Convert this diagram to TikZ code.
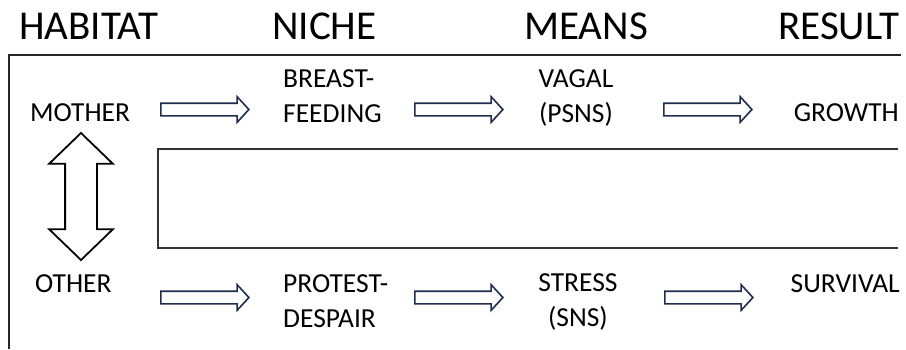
\documentclass[tikz,border=0pt]{standalone}
\usepackage{fontspec}
\setmainfont{Carlito}
\usetikzlibrary{shapes.arrows}
\definecolor{navy}{HTML}{1F2E4E}
\tikzset{
  heading/.style={font=\fontsize{41}{41}\selectfont, inner sep=0pt},
  label/.style={font=\fontsize{27.5}{35}\selectfont, inner sep=0pt},
  fatarrow/.style={draw=navy, line width=1.6pt, fill=white, single arrow,
    minimum height=88pt, inner xsep=0pt, inner ysep=5.5pt,
    single arrow head extend=6.5pt, single arrow tip angle=95},
}
\begin{document}
\begin{tikzpicture}[x=1pt,y=-1pt]
        \useasboundingbox (0,0) rectangle (906,349);
        % Column headings
        \node[heading, anchor=base west] (habitat) at (19,39) {HABITAT};
        \node[heading, anchor=base west] (niche) at (272,39) {NICHE};
        \node[heading, anchor=base west] (means) at (524,39) {MEANS};
        \node[heading, anchor=base west] (result) at (778,39) {RESULT};
        % Frame
        \draw[line width=1.3pt, black!85] (9,349) -- (9,55) -- (901,55);
        \draw[line width=1.1pt, black!80] (898,149) -- (158,149) -- (158,248) -- (898,248);
        % Upper row
        \node[label, anchor=base west] (mother) at (30,121) {MOTHER};
        \node[label, anchor=base west, align=left] (breast) at (283,122) {BREAST-\\FEEDING};
        \node[label, anchor=base, align=center] (vagal) at (576,122) {VAGAL\\(PSNS)};
        \node[label, anchor=base east] (growth) at (899,121) {GROWTH};
        \node[fatarrow] (a1) at (202,109.5) {};
        \node[fatarrow] (a2) at (456,109.5) {};
        \node[fatarrow] (a3) at (705,109.5) {};
        % Lower row
        \node[label, anchor=base west] (other) at (35,292) {OTHER};
        \node[label, anchor=base west, align=left] (protest) at (283,327) {PROTEST-\\DESPAIR};
        \node[label, anchor=base, align=center] (stress) at (578,326) {STRESS\\(SNS)};
        \node[label, anchor=base east] (survival) at (900,292) {SURVIVAL};
        \node[fatarrow] (b1) at (202,297.5) {};
        \node[fatarrow] (b2) at (456,297.5) {};
        \node[fatarrow] (b3) at (706,297.5) {};
        % Mother <-> other
        \node[draw=black, line width=1.8pt, double arrow, rotate=90,
          minimum height=127pt, inner xsep=0pt, inner ysep=15pt,
          double arrow head extend=16pt, double arrow tip angle=92] (link) at (81,196.5) {};
\end{tikzpicture}
\end{document}
